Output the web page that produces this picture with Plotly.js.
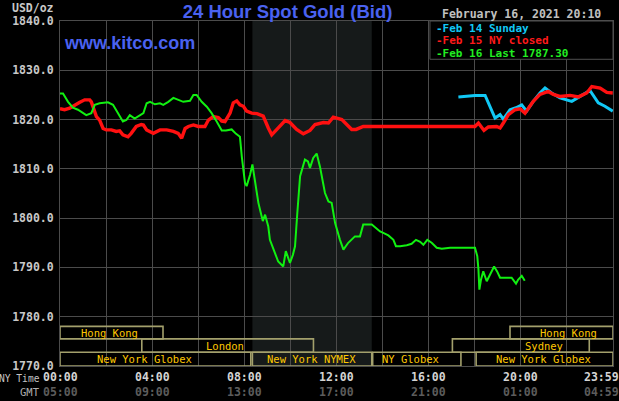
<!DOCTYPE html>
<html>
<head>
<meta charset="utf-8">
<script src="https://cdn.plot.ly/plotly-3.0.1.min.js"></script>
<style>
html,body{margin:0;padding:0;background:#000;}
#chart{width:619px;height:401px;}
</style>
</head>
<body>
<div id="chart"></div>
<script>
// ---- data (NY time in hours, price in USD/oz) ----
const feb16Hours = [0,0.13,0.35,0.56,0.78,1.0,1.14,1.36,1.51,1.72,2.08,2.30,2.52,2.73,2.88,3.03,3.24,3.46,3.62,3.76,3.91,4.12,4.34,4.48,4.70,4.92,5.13,5.35,5.64,5.79,5.93,6.15,6.37,6.58,6.80,7.02,7.20,7.45,7.64,7.81,7.89,8.03,8.10,8.25,8.35,8.46,8.61,8.80,8.90,9.04,9.11,9.33,9.47,9.69,9.80,9.90,9.98,10.11,10.20,10.30,10.42,10.63,10.76,10.85,10.99,11.14,11.28,11.50,11.65,11.79,11.94,12.15,12.30,12.51,12.80,13.02,13.16,13.53,13.89,14.03,14.25,14.47,14.58,14.76,15.05,15.26,15.45,15.63,15.77,15.94,16.13,16.35,16.57,16.93,18.01,18.11,18.16,18.20,18.27,18.37,18.52,18.66,18.84,18.97,19.10,19.31,19.60,19.79,19.88,20.04,20.17];
const feb16Price = [1825.3,1825.3,1823.6,1822.4,1822.0,1821.3,1820.9,1821.3,1823.0,1823.3,1823.5,1823.0,1821.3,1819.6,1819.9,1820.9,1820.2,1820.9,1821.3,1823.3,1823.6,1823.1,1823.3,1823.0,1823.6,1824.4,1824.0,1823.6,1823.8,1825.0,1825.0,1823.6,1822.6,1821.3,1819.6,1817.8,1817.8,1818.0,1817.1,1816.5,1812.5,1807.1,1806.5,1808.8,1810.9,1807.8,1803.1,1799.4,1800.7,1798.3,1795.6,1792.9,1791.2,1790.2,1793.3,1792.0,1790.9,1792.6,1794.3,1801.1,1808.5,1811.9,1811.5,1810.2,1812.2,1813.1,1810.5,1805.1,1803.4,1803.1,1799.0,1795.6,1793.6,1795.0,1796.3,1796.3,1798.7,1798.7,1797.3,1797.0,1796.5,1795.6,1794.3,1794.3,1794.5,1794.8,1795.6,1795.2,1794.6,1795.6,1795.0,1794.0,1793.8,1794.0,1794.0,1792.3,1789.6,1785.5,1787.5,1789.2,1787.2,1788.5,1790.2,1789.2,1787.9,1787.9,1787.9,1786.7,1787.5,1788.3,1787.3];

const feb15Hours = [0,0.2,0.42,0.64,0.86,1.07,1.29,1.36,1.48,1.58,1.72,1.87,2.01,2.23,2.44,2.59,2.73,2.95,3.09,3.31,3.53,3.62,3.76,4.05,4.34,4.63,4.92,5.13,5.28,5.43,5.57,5.79,6.0,6.29,6.44,6.65,6.87,7.02,7.16,7.38,7.52,7.67,7.81,7.96,8.10,8.32,8.55,8.82,9.04,9.19,9.33,9.47,9.77,9.98,10.27,10.56,10.85,11.07,11.43,11.65,11.86,12.23,12.51,12.66,12.85,13.02,13.16,18.01,18.16,18.40,18.59,18.95,19.10,19.24,19.46,19.75,19.97,20.18,20.54,20.83,21.19,21.41,21.70,22.14,22.50,22.86,23.08,23.44,23.73,23.99];
const feb15Price = [1822.2,1822.0,1822.3,1823.0,1823.5,1824.0,1824.0,1823.6,1822.0,1820.6,1819.9,1818.2,1817.9,1817.9,1817.6,1817.7,1816.9,1816.5,1817.2,1818.6,1819.0,1818.9,1817.9,1817.2,1817.9,1817.9,1817.6,1817.2,1816.2,1818.2,1818.6,1818.9,1818.6,1818.6,1819.9,1820.6,1820.4,1819.7,1819.6,1821.3,1823.4,1823.8,1823.0,1822.7,1821.7,1821.3,1821.2,1820.7,1818.3,1816.9,1817.6,1818.3,1819.8,1819.4,1818.0,1817.1,1817.8,1819.0,1819.4,1819.3,1820.5,1820.0,1818.6,1818.0,1818.0,1818.3,1818.6,1818.6,1819.3,1817.8,1818.5,1818.6,1818.3,1819.3,1821.0,1822.0,1822.2,1821.3,1823.7,1825.1,1825.7,1825.1,1824.7,1824.9,1824.6,1825.4,1826.7,1826.4,1825.5,1825.4];

const feb14Hours = [17.29,18.01,18.45,18.66,18.88,19.10,19.24,19.53,19.79,20.04,20.25,20.54,20.83,21.05,21.34,21.70,22.21,22.57,23.0,23.36,23.65,23.99];
const feb14Price = [1824.6,1824.9,1824.9,1822.7,1820.3,1821.0,1820.1,1822.0,1822.4,1823.0,1821.7,1823.7,1825.4,1826.4,1825.4,1824.4,1823.7,1824.7,1825.9,1823.4,1822.7,1821.7];

const seriesNames = ["Feb 14 Sunday", "Feb 15 NY closed", "Feb 16 Last 1787.30"];
const yTickValues = [1770,1780,1790,1800,1810,1820,1830,1840];
const nyTimeLabels = ["00:00","04:00","08:00","12:00","16:00","20:00","23:59"];
const gmtTimeLabels = ["05:00","09:00","13:00","17:00","21:00","01:00","04:59"];
const labelHours = [0,4,8,12,16,20,23.5];

// trading sessions (NY hours)
const sessionNames = ["Hong Kong","Hong Kong","London","Sydney","New York Globex","New York NYMEX","NY Globex","New York Globex"];
const sessionStart = [0,19.53,3.55,17.03,0,8.35,13.57,18.06];
const sessionEnd   = [4.47,24,11.0,22.97,8.28,13.53,17.4,24];
const sessionRow   = [0,0,1,1,2,2,2,2];
const sessionLabelHour = [2.13,22.05,7.17,20.99,3.66,10.9,15.2,20.99];
const nymexHours = [8.35, 13.53];

// ---- styling ----
const mono = "DejaVu Sans Mono";
const gridCol = "#4b4b4b";
const rowTop = [1778.05, 1775.5, 1772.8];
const rowBot = [1775.5, 1772.8, 1770.0];

const traces = [
  {x: feb14Hours, y: feb14Price, mode: "lines", name: seriesNames[0], line: {color: "#11c8f5", width: 3}},
  {x: feb15Hours, y: feb15Price, mode: "lines", name: seriesNames[1], line: {color: "#ff1010", width: 3.4}},
  {x: feb16Hours, y: feb16Price, mode: "lines", name: seriesNames[2], line: {color: "#11f011", width: 2}}
];

const shapes = [
  {type: "rect", xref: "x", yref: "paper", x0: nymexHours[0], x1: nymexHours[1], y0: 0, y1: 1,
   fillcolor: "#161a1a", line: {width: 0}, layer: "below"}
];
const annotations = [];
for (let i = 0; i < sessionNames.length; i++) {
  const r = sessionRow[i];
  shapes.push({type: "rect", xref: "x", yref: "y", x0: sessionStart[i], x1: sessionEnd[i],
    y0: rowBot[r], y1: rowTop[r], line: {color: "#a3a06c", width: 1.6}, fillcolor: "rgba(0,0,0,0)", layer: "above"});
  annotations.push({xref: "x", yref: "y", x: sessionLabelHour[i], y: (rowTop[r] + rowBot[r]) / 2,
    text: sessionNames[i], showarrow: false, xanchor: "center", yanchor: "middle",
    font: {family: mono, size: 10.5, color: "#ffc800"}});
}
// legend box
shapes.push({type: "rect", xref: "paper", yref: "paper", x0: 0.669, x1: 1, y0: 0.889, y1: 1,
  fillcolor: "#000", line: {color: "#505050", width: 1}, layer: "above"});
const legendColors = ["#11c8f5", "#ff1a1a", "#22ee22"];
const legendY = [0.9797, 0.9435, 0.907];
for (let i = 0; i < 3; i++) {
  annotations.push({xref: "paper", yref: "paper", x: 0.6775, y: legendY[i], xanchor: "left", yanchor: "middle",
    text: "-" + seriesNames[i], showarrow: false, borderpad: 0,
    font: {family: mono, size: 11, color: legendColors[i], weight: "bold"}});
}
// x labels
for (let i = 0; i < nyTimeLabels.length; i++) {
  annotations.push({xref: "x", yref: "paper", x: labelHours[i], y: -0.032, xanchor: "center", yanchor: "middle",
    text: nyTimeLabels[i], showarrow: false, font: {family: mono, size: 11.5, color: "#d4d4d4", weight: "bold"}});
  annotations.push({xref: "x", yref: "paper", x: labelHours[i], y: -0.074, xanchor: "center", yanchor: "middle",
    text: gmtTimeLabels[i], showarrow: false, font: {family: mono, size: 11.5, color: "#5c5c5c", weight: "bold"}});
}
annotations.push({xref: "paper", yref: "paper", x: -0.034, y: -0.035, xanchor: "right", yanchor: "middle",
  text: "NY Time", showarrow: false, borderpad: 0, font: {family: mono, size: 9.6, color: "#c4c4c4"}});
annotations.push({xref: "paper", yref: "paper", x: -0.034, y: -0.074, xanchor: "right", yanchor: "middle",
  text: "GMT", showarrow: false, borderpad: 0, font: {family: mono, size: 10.5, color: "#b0b0b0"}});
annotations.push({xref: "paper", yref: "paper", x: -0.0072, y: 1.038, xanchor: "right", yanchor: "middle",
  text: "USD/oz", showarrow: false, font: {family: mono, size: 11.5, color: "#c8c8c8", weight: "bold"}});
annotations.push({xref: "paper", yref: "paper", x: 0.8354, y: 1.0203, xanchor: "center", yanchor: "middle",
  text: "February 16, 2021 20:10", showarrow: false, font: {family: mono, size: 11.5, color: "#c0c0c0", weight: "bold"}});
annotations.push({xref: "paper", yref: "paper", x: 0.004, y: 0.936, xanchor: "left", yanchor: "middle",
  text: "www.kitco.com", showarrow: false, font: {family: "Liberation Sans", size: 18, color: "#4a62f0", weight: "bold"}});

const layout = {
  width: 619, height: 401,
  margin: {l: 60, r: 6, t: 21, b: 35},
  paper_bgcolor: "#000", plot_bgcolor: "#000",
  showlegend: false,
  title: {text: "24 Hour Spot Gold (Bid)", x: 0.4645, xref: "container", xanchor: "center",
          y: 0.971, yref: "container", yanchor: "middle",
          font: {family: "Liberation Sans", size: 18.5, color: "#4a62f0", weight: "bold"}},
  xaxis: {range: [0, 24], tickvals: [0,2,4,6,8,10,12,14,16,18,20,22,24], showticklabels: false,
          showgrid: true, gridcolor: gridCol, gridwidth: 1, zeroline: false,
          showline: true, mirror: true, linecolor: gridCol, linewidth: 1, ticks: "", fixedrange: true},
  yaxis: {range: [1770, 1840], tickvals: yTickValues, ticktext: yTickValues.map(v => v.toFixed(1)),
          showgrid: true, gridcolor: gridCol, gridwidth: 1, zeroline: false,
          showline: true, mirror: true, linecolor: gridCol, linewidth: 1, ticks: "",
          ticklabelstandoff: 3,
          tickfont: {family: mono, size: 11.5, color: "#c8c8c8", weight: "bold"}, fixedrange: true},
  shapes: shapes,
  annotations: annotations
};

Plotly.newPlot("chart", traces, layout, {displayModeBar: false, staticPlot: true});
</script>
</body>
</html>
